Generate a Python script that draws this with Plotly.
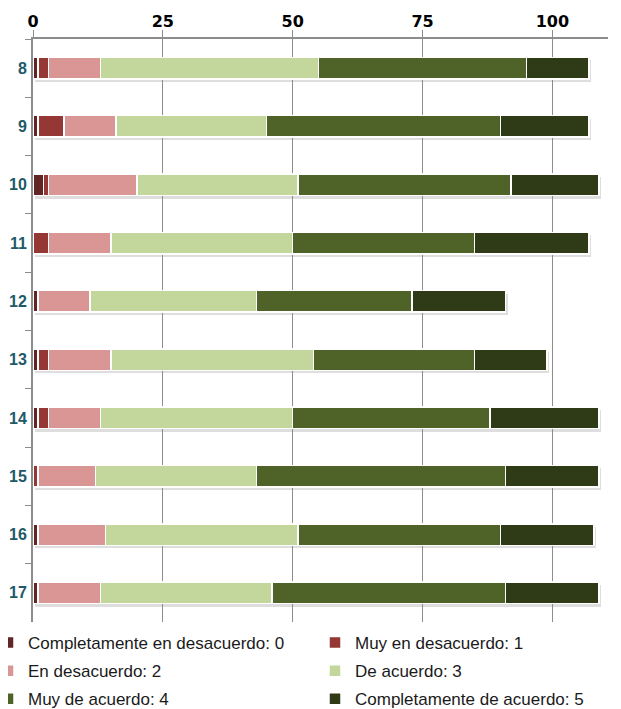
import plotly.graph_objects as go

questions = ["8", "9", "10", "11", "12", "13", "14", "15", "16", "17"]
series_names = [
    "Completamente en desacuerdo: 0",
    "Muy en desacuerdo: 1",
    "En desacuerdo: 2",
    "De acuerdo: 3",
    "Muy de acuerdo: 4",
    "Completamente de acuerdo: 5",
]
comp_desacuerdo = [1, 1, 2, 0, 1, 1, 1, 0, 1, 1]
muy_desacuerdo = [2, 5, 1, 3, 0, 2, 2, 1, 0, 0]
en_desacuerdo = [10, 10, 17, 12, 10, 12, 10, 11, 13, 12]
de_acuerdo = [42, 29, 31, 35, 32, 39, 37, 31, 37, 33]
muy_acuerdo = [40, 45, 41, 35, 30, 31, 38, 48, 39, 45]
comp_acuerdo = [12, 17, 17, 22, 18, 14, 21, 18, 18, 18]
x_ticks = [0, 25, 50, 75, 100]

series_values = [comp_desacuerdo, muy_desacuerdo, en_desacuerdo,
                 de_acuerdo, muy_acuerdo, comp_acuerdo]
colors = ["#632523", "#953735", "#D99694", "#C3D69B", "#4F6228", "#2F3A17"]

totals = [sum(v) for v in zip(*series_values)]

# the page body has an 8px default margin, so the figure is sized to fit
W, H = 613, 701
ML, MR, MT, MB = 25, 13, 31, 84
PW, PH = W - ML - MR, H - MT - MB
XMAX = 110.7
dx, dy = 2.0, 3.0  # shadow offset in px

fig = go.Figure()

# soft drop shadow under each bar (hidden axes)
fig.add_trace(go.Bar(
    y=questions, x=totals, orientation="h", xaxis="x", yaxis="y",
    marker=dict(color="rgba(0,0,0,0.13)", line=dict(width=0)),
    showlegend=False, hoverinfo="skip",
))

for i, (name, vals, col) in enumerate(zip(series_names, series_values, colors)):
    fig.add_trace(go.Bar(
        y=questions, x=vals, name=name, orientation="h",
        xaxis="x2", yaxis="y2",
        legend="legend" if i % 2 == 0 else "legend2",
        legendgroup=name,
        marker=dict(color=col, line=dict(color="white", width=1.5)),
    ))

legend_common = dict(
    orientation="v", yanchor="top", y=0.0, traceorder="grouped",
    font=dict(family="Liberation Sans, Arial", size=17, color="#1a1a1a"),
    itemwidth=30, tracegroupgap=3, bgcolor="rgba(0,0,0,0)",
)

fig.update_layout(
    width=W, height=H,
    margin=dict(l=ML, r=MR, t=MT, b=MB, autoexpand=False),
    barmode="stack", bargap=0.63,
    plot_bgcolor="rgba(0,0,0,0)", paper_bgcolor="white",
    showlegend=True,
    legend=dict(x=(-20 - ML) / PW, xanchor="left", **legend_common),
    legend2=dict(x=(307 - ML) / PW, xanchor="left", **legend_common),
    xaxis=dict(
        domain=[dx / PW, 1], range=[0, XMAX * (1 - dx / PW)],
        visible=False, fixedrange=True,
    ),
    yaxis=dict(
        domain=[0, 1 - dy / PH], autorange="reversed", type="category",
        visible=False, anchor="x",
    ),
    xaxis2=dict(
        domain=[0, 1], anchor="y2",
        side="top", range=[0, XMAX], tickvals=x_ticks,
        showgrid=True, gridcolor="#8C8C8C", gridwidth=1,
        showline=True, linecolor="#8C8C8C", linewidth=2,
        ticks="outside", ticklen=7, tickcolor="#8C8C8C", tickwidth=1,
        tickfont=dict(family="DejaVu Sans", size=16, color="black", weight="bold"),
        ticklabelstandoff=-3, zeroline=False,
    ),
    yaxis2=dict(
        domain=[dy / PH, 1], anchor="x2",
        autorange="reversed", type="category",
        showline=True, linecolor="#8C8C8C", linewidth=2,
        ticks="outside", ticklen=6, tickcolor="#8C8C8C", tickson="boundaries",
        tickfont=dict(family="Liberation Sans, Arial", size=16, color="#215968", weight="bold"),
        ticklabelstandoff=1, showgrid=False,
    ),
)

fig.write_html("out.html")
